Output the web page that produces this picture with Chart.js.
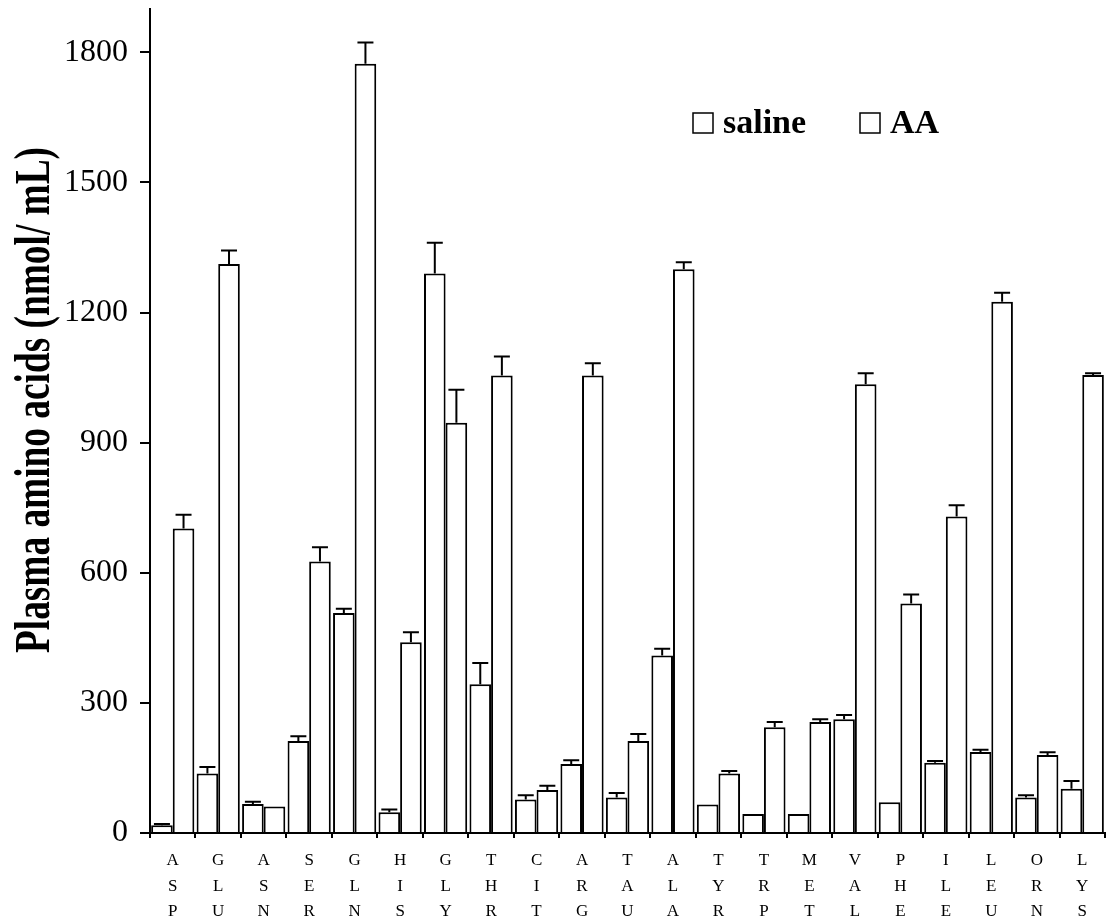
<!DOCTYPE html>
<html>
<head>
<meta charset="utf-8">
<title>Plasma amino acids</title>
<script src="https://cdn.jsdelivr.net/npm/chart.js@4.4.1/dist/chart.umd.min.js"></script>
<style>
  body { margin: 0; background: #fff; }
  #wrap { width: 1108px; height: 922px; position: relative; }
</style>
</head>
<body>
<div id="wrap"><canvas id="chart"></canvas></div>
<script>
'use strict';
// data
var aminoAcids = ['ASP','GLU','ASN','SER','GLN','HIS','GLY','THR','CIT','ARG','TAU','ALA','TYR','TRP','MET','VAL','PHE','ILE','LEU','ORN','LYS'];
var salineValues = [18, 137, 67, 212, 507, 48, 1290, 343, 77, 159, 82, 409, 66, 44, 44, 262, 71, 162, 187, 82, 102];
var salineErrors = [3, 15, 5, 11, 10, 6, 71, 49, 10, 9, 10, 16, 0, 0, 0, 10, 0, 4, 5, 5, 18];
var aaValues = [702, 1312, 61, 626, 1774, 440, 946, 1055, 99, 1055, 212, 1300, 137, 244, 256, 1035, 529, 730, 1225, 180, 1056];
var aaErrors = [32, 31, 0, 33, 49, 23, 76, 44, 10, 28, 16, 16, 6, 12, 6, 25, 21, 26, 21, 6, 4];
var yTicks = [0, 300, 600, 900, 1200, 1500, 1800];
var yTitle = 'Plasma amino acids (nmol/ mL)';

var serif = "'Liberation Serif', 'Times New Roman', serif";

// letters of each name stacked on top of each other
var xLabels = [];
for (var i = 0; i < aminoAcids.length; i++) {
  xLabels.push(aminoAcids[i].split(''));
}

// error bars, only the upper half like the figure
var errorBars = {
  id: 'errorBars',
  afterDatasetsDraw: function(chart) {
    var ctx = chart.ctx;
    var yScale = chart.scales.y;
    ctx.save();
    ctx.strokeStyle = '#000';
    ctx.lineWidth = 2;
    chart.data.datasets.forEach(function(ds, d) {
      var meta = chart.getDatasetMeta(d);
      meta.data.forEach(function(bar, k) {
        var err = ds.errors[k];
        if (!err) return;
        var yTop = yScale.getPixelForValue(ds.data[k] + err);
        ctx.beginPath();
        ctx.moveTo(bar.x, bar.y);
        ctx.lineTo(bar.x, yTop);
        ctx.moveTo(bar.x - 8, yTop);
        ctx.lineTo(bar.x + 8, yTop);
        ctx.stroke();
      });
    });
    ctx.restore();
  }
};

// legend inside the plot and the squeezed y title
var extras = {
  id: 'extras',
  afterDraw: function(chart) {
    var ctx = chart.ctx;
    ctx.save();
    ctx.fillStyle = '#000';
    ctx.strokeStyle = '#000';
    ctx.lineWidth = 1.5;
    ctx.font = 'bold 34px ' + serif;
    ctx.textBaseline = 'alphabetic';
    ctx.textAlign = 'left';
    var legendX = [693, 860];
    chart.data.datasets.forEach(function(ds, d) {
      ctx.fillStyle = '#fff';
      ctx.fillRect(legendX[d], 113, 20, 20);
      ctx.strokeRect(legendX[d], 113, 20, 20);
      ctx.fillStyle = '#000';
      ctx.fillText(ds.label, legendX[d] + 30, 133);
    });

    ctx.font = 'bold 50px ' + serif;
    var w = ctx.measureText(yTitle).width;
    ctx.translate(49, 400);
    ctx.rotate(-Math.PI / 2);
    ctx.scale(506 / w, 1);
    ctx.textAlign = 'center';
    ctx.fillText(yTitle, 0, 0);
    ctx.restore();
  }
};

var placeOfChart = document.getElementById('chart').getContext('2d');
var chart = new Chart(placeOfChart, {
  type: 'bar',
  data: {
    labels: xLabels,
    datasets: [{
      label: 'saline',
      data: salineValues,
      errors: salineErrors,
      backgroundColor: '#fff',
      borderColor: '#000',
      borderWidth: 2
    }, {
      label: 'AA',
      data: aaValues,
      errors: aaErrors,
      backgroundColor: '#fff',
      borderColor: '#000',
      borderWidth: 2
    }]
  },
  options: {
    responsive: true,
    maintainAspectRatio: false,
    animation: false,
    layout: { padding: { top: 9, right: 3, left: 0, bottom: 0 } },
    datasets: { bar: { categoryPercentage: 0.95, barPercentage: 1.0 } },
    plugins: {
      legend: { display: false },
      tooltip: { enabled: false }
    },
    scales: {
      x: {
        offset: true,
        grid: {
          offset: true,
          drawOnChartArea: false,
          tickLength: 5,
          color: '#000',
          lineWidth: 2
        },
        border: { color: '#000', width: 2 },
        ticks: {
          color: '#000',
          font: { family: serif, size: 17, lineHeight: 1.5 },
          padding: 10,
          maxRotation: 0,
          autoSkip: false
        },
        afterFit: function(scale) { scale.height = 89; }
      },
      y: {
        min: 0,
        max: 1900,
        afterBuildTicks: function(scale) {
          scale.ticks = yTicks.map(function(v) { return { value: v }; });
        },
        grid: {
          drawOnChartArea: false,
          tickLength: 10,
          color: '#000',
          lineWidth: 2
        },
        border: { color: '#000', width: 2 },
        ticks: {
          color: '#000',
          font: { family: serif, size: 32 },
          padding: 12,
          callback: function(value) { return String(value); }
        },
        afterFit: function(scale) {
          scale.width = 150;
          scale.paddingTop = 0;
          scale.paddingBottom = 0;
        }
      }
    }
  },
  plugins: [errorBars, extras]
});
</script>
</body>
</html>
